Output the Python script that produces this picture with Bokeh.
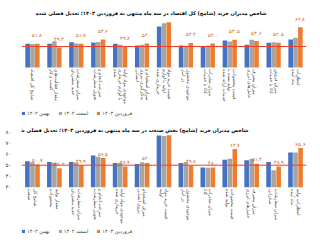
import math
from bokeh.plotting import figure
from bokeh.models import (FactorRange, Span, LabelSet, ColumnDataSource, Label,
                          Legend, LegendItem, FixedTicker)
from bokeh.layouts import column
from bokeh.transform import dodge
from bokeh.core.properties import value
from bokeh.embed import file_html
from bokeh.resources import INLINE

# ---------------- data ----------------
series_names = ["بهمن ۱۴۰۲", "اسفند ۱۴۰۲", "فروردین ۱۴۰۳"]
series_colors = ["#4472C4", "#A5A5A5", "#ED7D31"]

top_title = "شاخص مدیران خرید (شامخ) کل اقتصاد در سه ماه منتهی به فروردین ۱۴۰۳؛ تعدیل فصلی شده"
top_cats = [
    "شامخ کل اقتصاد",
    "مقدار فعالیت‌های\nکسب و کار",
    "میزان سفارشات\nجدید مشتریان",
    "سرعت انجام و\nتحویل سفارشات",
    "موجودی مواد اولیه\nیا لوازم خریداری\nشده",
    "میزان استخدام و\nبه‌کارگیری نیروی\nانسانی",
    "قیمت خرید مواد\nاولیه یا لوازم\nخریداری شده",
    "موجودی محصول\nدر انبار",
    "میزان صادرات\nکالا یا خدمات",
    "قیمت محصولات\nتولید شده یا\nخدمات ارائه شده",
    "میزان مصرف\nحامل‌های انرژی",
    "میزان فروش\nکالا یا خدمات",
    "انتظارات\nماه آینده",
]
top_bahman = [51.8, 51.8, 52.9, 52.7, 51.8, 50.7, 63.3, 50.7, 50.0, 54.0, 51.1, 52.5, 54.7]
top_esfand = [51.6, 53.5, 52.0, 53.0, 51.1, 51.2, 65.5, 50.5, 50.6, 53.3, 54.5, 52.9, 55.8]
top_farvardin = [51.8, 49.3, 51.8, 54.6, 49.8, 52.0, 66.2, 52.4, 52.0, 54.5, 53.6, 52.5, 62.8]
top_value_labels = ["۵۱.۸", "۴۹.۳", "۵۱.۸", "۵۴.۶", "۴۹.۸", "۵۲.۰", "", "۵۲.۴", "۵۲.۰",
                    "۵۴.۵", "۵۳.۶", "۵۲.۵", "۶۲.۸"]

bot_title = "شاخص مدیران خرید (شامخ) بخش صنعت در سه ماه منتهی به فروردین ۱۴۰۳؛ تعدیل فصلی شده"
bot_cats = [
    "شامخ کل\nصنعت",
    "مقدار تولید\nمحصولات",
    "میزان سفارشات\nجدید مشتریان",
    "سرعت انجام و\nتحویل سفارشات",
    "موجودی مواد اولیه\nخریداری شده",
    "میزان استخدام\nنیروی انسانی",
    "قیمت خرید مواد\nاولیه",
    "موجودی محصول\nدر انبار",
    "میزان صادرات\nکالا",
    "قیمت محصولات\nتولید شده",
    "میزان مصرف\nحامل‌های انرژی",
    "میزان سفارشات\nصادراتی",
    "انتظارات تولید\nماه آینده",
]
bot_bahman = [53.5, 52.9, 52.9, 58.9, 52.0, 51.1, 77.0, 52.0, 48.0, 55.0, 54.4, 52.9, 61.6]
bot_esfand = [52.7, 52.3, 52.5, 57.7, 52.3, 52.6, 76.6, 52.9, 47.6, 55.9, 55.6, 45.3, 61.6]
bot_farvardin = [50.7, 47.2, 49.9, 56.5, 48.9, 52.0, 77.3, 49.8, 48.0, 64.7, 51.4, 48.9, 65.6]
bot_value_labels = ["۵۰.۷", "۴۷.۲", "۴۹.۹", "۵۶.۵", "۴۸.۹", "۵۲.۰", "", "۴۹.۸", "۴۸.۰",
                    "۶۴.۷", "۵۱.۴", "۴۸.۹", "۶۵.۶"]
bot_ticks = [30, 40, 50, 60, 70, 80]
bot_tick_labels = ["۳۰", "۴۰", "۵۰", "۶۰", "۷۰", "۸۰"]

FONT = "DejaVu Sans"


def make_chart(title, cats, s1, s2, s3, vlabels, base, y_start, y_end, height,
               border_left, border_right, title_x, title_y, offset, label_off,
               line_gap, cat_label_y, legend_loc, yaxis):
    src = ColumnDataSource(dict(cat=cats, a=s1, b=s2, c=s3, lab=vlabels))
    p = figure(x_range=FactorRange(factors=cats), y_range=(y_start, y_end),
               width=320, height=height,
               output_backend="svg", toolbar_location=None,
               min_border_left=border_left, min_border_right=border_right,
               min_border_top=0, min_border_bottom=0,
               background_fill_color="white", border_fill_color="white")
    p.outline_line_color = None
    p.xgrid.visible = False
    p.ygrid.visible = False
    p.xaxis.visible = False
    w = 0.21
    rs = []
    for key, off, col in zip(["a", "b", "c"], [-offset, 0, offset], series_colors):
        r = p.vbar(x=dodge("cat", off, range=p.x_range), top=key, bottom=base,
                   width=w, source=src, fill_color=col, line_color=None)
        rs.append(r)
    p.add_layout(Span(location=50, dimension="width", line_color="#E8412C", line_width=1))
    p.add_layout(LabelSet(x=dodge("cat", offset, range=p.x_range), y="c", text="lab",
                          source=src, y_offset=label_off, text_align="center",
                          text_baseline="middle", text_font_size="5px",
                          text_color="#C55A11", text_font=FONT))
    p.add_layout(Label(x=title_x, y=title_y, x_units="screen", y_units="screen",
                       text=title, text_align="right", text_baseline="middle",
                       text_font_size="5px", text_font_style="bold", text_font=FONT,
                       text_color="#000000"))
    # category labels: vertical text, each line its own column
    groups = {}
    for c in cats:
        lines = c.split("\n")
        n = len(lines)
        for k, t in enumerate(lines):
            groups.setdefault((n, k), ([], []))
            groups[(n, k)][0].append(c)
            groups[(n, k)][1].append(t)
    for (n, k), (cs, ts) in groups.items():
        off = ((n - 1) / 2 - k) * line_gap
        s = ColumnDataSource(dict(cat=cs, t=ts, y=[cat_label_y] * len(cs)))
        p.text(x=dodge("cat", off, range=p.x_range), y="y", text="t", source=s,
               angle=-math.pi / 2, text_align="left", text_baseline="middle",
               text_font_size="4.5px", text_font=value(FONT), text_color="#404040")
    if yaxis:
        ya = p.yaxis[0]
        ya.ticker = FixedTicker(ticks=bot_ticks)
        ya.major_label_overrides = {t: l for t, l in zip(bot_ticks, bot_tick_labels)}
        ya.major_label_text_font_size = "5.5px"
        ya.major_label_text_font = FONT
        ya.major_label_text_color = "#404040"
        ya.axis_line_color = None
        ya.major_tick_line_color = None
        ya.minor_tick_line_color = None
        ya.major_label_standoff = 4
    else:
        p.yaxis.visible = False
    legend = Legend(items=[LegendItem(label=n, renderers=[r]) for n, r in zip(series_names, rs)],
                    orientation="horizontal", location=legend_loc,
                    label_text_font_size="5px", label_text_font=FONT,
                    label_text_color="#404040",
                    glyph_width=4, glyph_height=4, label_height=5, label_standoff=2,
                    spacing=8, padding=1, margin=0, border_line_color=None,
                    background_fill_alpha=0)
    p.add_layout(legend)
    return p


p1 = make_chart(top_title, top_cats, top_bahman, top_esfand, top_farvardin, top_value_labels,
                36, 2.67, 80.67, 117, 9, 0, 245, 105, 0.22, 8, 0.23, 35.0, (0, 1), False)
p2 = make_chart(bot_title, bot_cats, bot_bahman, bot_esfand, bot_farvardin, bot_value_labels,
                30, -18.45, 93.36, 123, 21, 14, 227, 111, 0.23, 4, 0.25, 28.5, (0, 6), True)

layout = column(p1, p2, spacing=0)
open("out.html", "w").write(file_html(layout, INLINE))
